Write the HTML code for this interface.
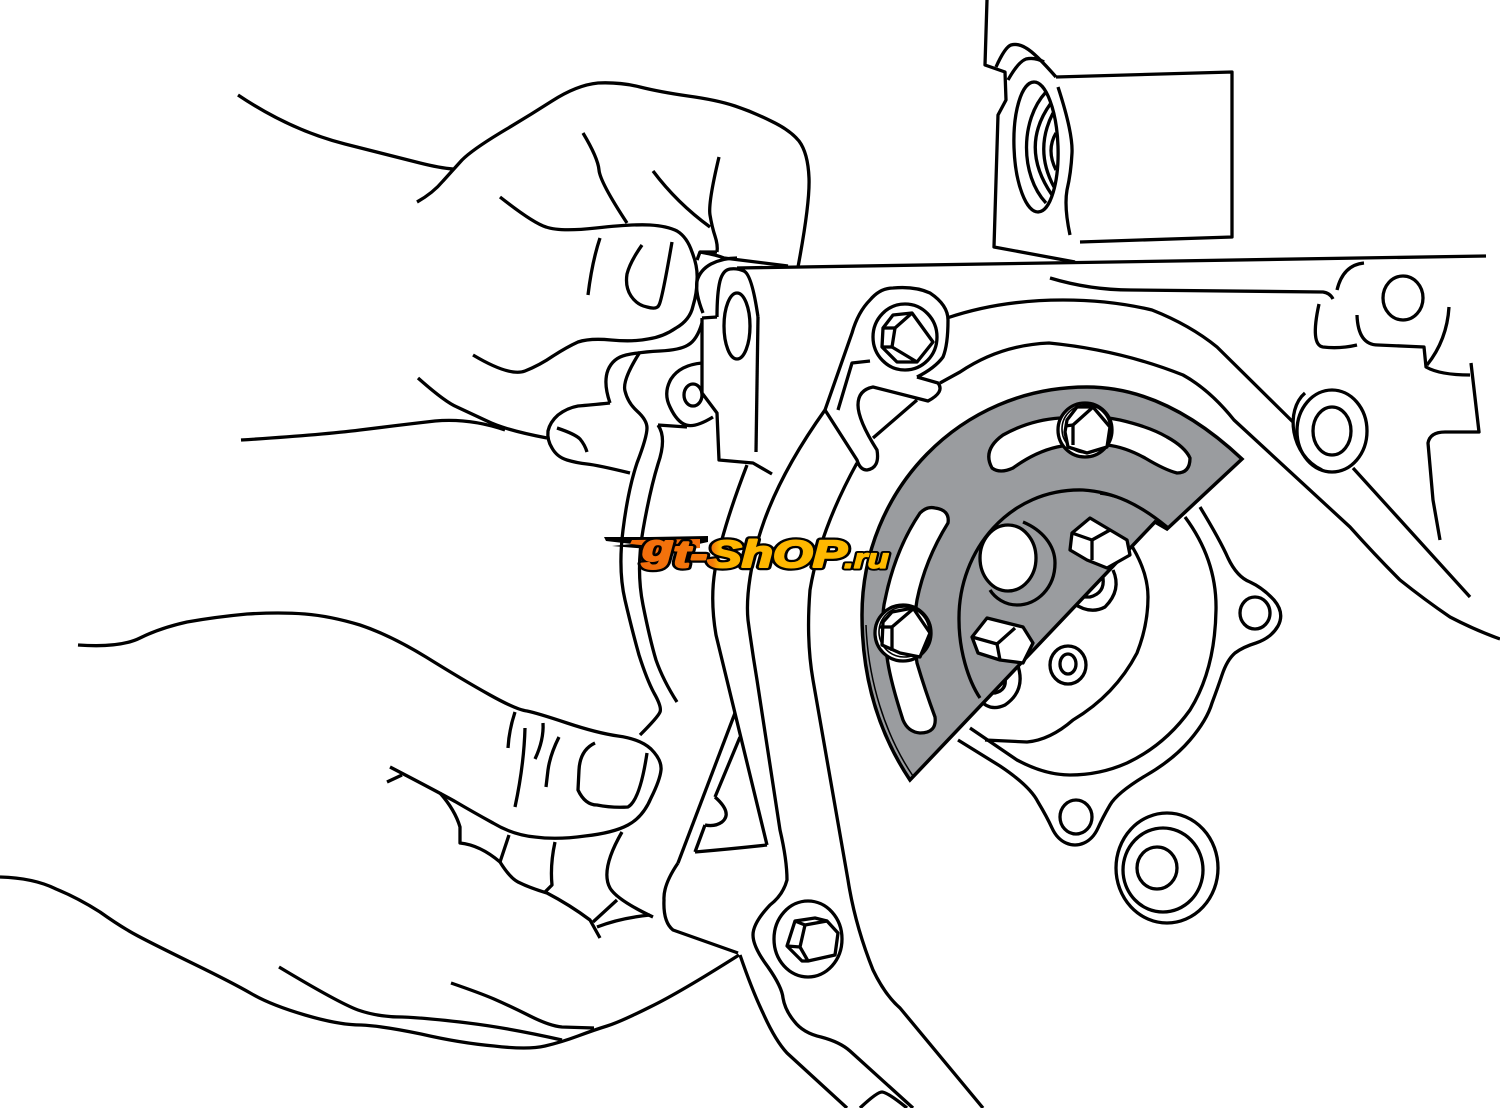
<!DOCTYPE html>
<html>
<head>
<meta charset="utf-8">
<style>
html,body{margin:0;padding:0;background:#fff;}
svg{display:block;}
.l path,.l polygon,.l ellipse,.l circle,.l polyline{stroke:#000;stroke-width:3.3;stroke-linecap:butt;stroke-linejoin:round;}
</style>
</head>
<body>
<svg xmlns="http://www.w3.org/2000/svg" width="1500" height="1108" viewBox="0 0 1500 1108">
<rect width="1500" height="1108" fill="#fff"/>
<g class="l" fill="none">
  <!-- block -->
  <polyline points="987,0 985,65 1005,72 1006,100 998,115 994,247 1075,262"/>
  <polyline points="1056,77 1232,72 1232,237 1080,242"/>
  <ellipse cx="1036" cy="147" rx="22" ry="65" transform="rotate(-2 1036 147)"/>
  <path d="M996,67 Q1005,47 1011,45 Q1018,43 1026,48 Q1035,53 1056,77"/>
  <path d="M1008,80 Q1018,62 1026,59 Q1035,57 1044,62"/>
  <path d="M1058,87 Q1073,133 1072,153 Q1071,173 1067,190 Q1064,207 1070,235"/>
  <path d="M1046,92 C1020,120 1020,175 1046,203"/>
  <path d="M1051,103 Q1019,147 1052,195"/>
  <path d="M1053,113 Q1034,150 1054,187"/>
  <path d="M1056,133 Q1046,150 1056,170"/>
  <!-- holes and rings -->
  <ellipse cx="1403" cy="298" rx="20" ry="22"/>
  <ellipse cx="1332" cy="431" rx="35" ry="41" stroke-width="4"/>
  <ellipse cx="1332" cy="431" rx="19" ry="24"/>
  <path d="M1305,393 C1285,410 1290,455 1322,470"/>
  <ellipse cx="1255" cy="613" rx="15" ry="16"/>
  <ellipse cx="1076" cy="817" rx="16" ry="17"/>
  <ellipse cx="1167" cy="868" rx="51" ry="55"/>
  <ellipse cx="1163" cy="870" rx="40" ry="42"/>
  <ellipse cx="1157" cy="868" rx="20" ry="21"/>
  <ellipse cx="1068" cy="665" rx="18" ry="19"/>
  <ellipse cx="1068" cy="664" rx="8" ry="10"/>
  <!-- upper hand -->
  <path d="M238,95 Q290,130 345,144 Q400,158 420,163 Q440,168 453,169"/>
  <path d="M417,202 Q433,193 443,181 Q453,170 462,160 Q472,150 500,133 Q527,117 552,101 Q577,85 598,83 Q620,82 640,87 Q660,92 688,96 Q717,100 735,106 Q753,112 771,121 Q790,130 799,141 Q808,153 809,178 Q810,203 798,267"/>
  <path d="M583,133 Q598,158 599,170 Q600,182 627,223"/>
  <path d="M653,171 Q677,203 710,227"/>
  <path d="M719,157 Q708,203 710,215 Q712,227 715,236 Q718,245 717,252"/>
  <path d="M500,197 Q533,223 546,227 Q560,232 596,228 Q633,224 650,225 Q667,226 677,231 Q687,237 692,252 Q698,267 697,280 Q697,293 693,306 Q690,320 676,328 Q663,337 648,339 Q633,342 611,340 Q590,338 578,342 Q567,347 553,356 Q540,365 525,371 Q510,377 473,355"/>
  <path d="M642,245 Q630,262 627,274 Q625,287 631,296 Q637,305 647,307 Q657,310 659,305 Q662,300 672,242"/>
  <path d="M600,238 Q592,262 588,295"/>
  <!-- arm and middle finger -->
  <path d="M241,440 Q320,435 360,430 Q400,425 435,421 Q470,418 505,430"/>
  <path d="M418,378 Q445,402 457,407 Q470,413 487,421 Q505,430 547,438"/>
  <path d="M610,403 Q590,405 578,406 Q567,408 558,415 Q550,422 548,431 Q547,440 552,448 Q557,457 567,460 Q577,463 587,464 Q597,465 630,473"/>
  <path d="M557,428 Q575,434 580,439 Q585,445 587,452"/>
  <!-- gasket near hands -->
  <path d="M610,403 Q603,383 608,370 Q613,358 626,355 Q640,352 660,351 Q680,350 688,345 Q697,340 702,323"/>
  <path d="M640,352 Q622,380 625,391 Q628,403 637,411 Q647,420 647,428 Q647,437 637,463 Q628,490 623,530 Q618,570 625,600 Q632,630 639,655 Q647,680 654,693 Q662,707 660,712 Q658,717 640,735"/>
  <path d="M658,425 Q667,438 658,464 Q650,490 643,530 Q636,570 643,605 Q650,640 656,660 Q663,680 677,702"/>
  <path d="M702,363 Q680,365 671,379 Q663,393 670,407 Q677,422 686,425 Q695,428 713,417"/>
  <path d="M658,425 L687,427"/>
  <!-- tab -->
  <ellipse cx="737" cy="326" rx="13" ry="33"/>
  <ellipse cx="693" cy="395" rx="9" ry="11"/>
  <polyline points="702,318 702,393 717,413 719,460 753,463 772,474"/>
  <polyline points="717,317 702,318"/>
  <polyline points="758,317 756,452"/>
  <path d="M717,317 Q717,293 720,281 Q723,270 730,269 Q737,268 744,271 Q752,275 758,317"/>
  <path d="M703,313 Q695,293 697,281 Q700,270 711,264 Q723,258 737,258"/>
  <path d="M700,252 Q717,255 724,258 L788,266"/>
  <path d="M717,252 L700,252 L697,260"/>
  <!-- top edge and right details -->
  <path d="M737,268 L1486,256"/>
  <path d="M1050,278 Q1090,290 1131,290 L1323,292 Q1330,293 1333,299"/>
  <path d="M1337,290 Q1343,265 1364,263"/>
  <path d="M1319,304 Q1310,345 1323,347 Q1340,349 1357,345"/>
  <path d="M1357,315 Q1358,345 1378,345 L1424,347 L1426,367 Q1440,375 1470,375"/>
  <path d="M1449,307 Q1447,340 1427,365"/>
  <path d="M1471,363 L1479,432 L1445,432 Q1430,432 1428,443 L1433,500 L1440,540"/>
  <!-- sweeping lines -->
  <path d="M947,318 Q1000,300 1063,300 Q1110,300 1152,310 Q1190,325 1217,347 L1293,422"/>
  <path d="M940,383 L960,372 Q1000,345 1049,343 Q1120,350 1183,375 Q1210,390 1234,420 L1350,527 Q1375,555 1400,580 Q1425,600 1450,617 Q1475,630 1500,639"/>
  <path d="M1353,468 L1470,597"/>
  <!-- bracket and bolt -->
  <path d="M825,410 L852,333 Q858,312 870,300 Q880,288 893,288 Q915,286 930,293 Q948,305 948,320 Q948,345 943,357 Q935,368 917,377"/>
  <path d="M917,377 L938,383 Q945,392 928,401 L873,387 Q858,390 858,405 Q858,420 877,450 Q880,468 867,470 Q860,470 857,460 L825,410"/>
  <path d="M870,361 L852,363 L838,410"/>
  <path d="M917,400 L873,438"/>
  <ellipse cx="905" cy="337" rx="32" ry="33"/>
  <polygon points="883,328 893,315 912,313 933,342 917,362 897,362 882,347"/>
  <polyline points="912,313 895,328 892,347 917,362"/>
  <polyline points="883,328 895,328"/>
  <polyline points="882,347 892,347"/>
  <!-- three tall curves and gasket -->
  <path d="M825,410 Q775,480 758,540 Q745,590 748,620 Q752,650 757,680 L780,830 Q787,860 787,880 Q783,895 770,905 Q753,923 753,935 Q753,947 768,967 Q782,987 783,998 Q785,1010 794,1021 Q803,1033 821,1037 Q840,1042 850,1051 L913,1108"/>
  <path d="M857,463 Q820,530 810,590 Q806,640 813,680 L848,880 Q855,925 873,970 Q885,995 900,1008 L983,1108"/>
  <path d="M747,465 Q722,530 715,570 Q710,600 716,635 L767,845"/>
  <path d="M740,955 Q752,990 763,1013 Q775,1040 787,1053 L847,1108"/>
  <path d="M860,1108 Q877,1092 882,1092 Q887,1092 907,1108"/>
  <!-- triangle -->
  <polyline points="735,713 678,863"/>
  <polyline points="740,737 715,797"/>
  <polyline points="705,825 695,852"/>
  <path d="M715,797 Q733,813 722,822 Q715,827 705,825"/>
  <path d="M695,852 Q730,849 767,845"/>
  <!-- lower bolt -->
  <ellipse cx="808" cy="939" rx="34" ry="38"/>
  <polygon points="795,921 815,918 827,921 838,933 835,955 808,961 802,961 787,946"/>
  <polyline points="795,921 805,925 827,921"/>
  <polyline points="805,925 800,947 808,961"/>
  <polyline points="800,947 787,946"/>
  <!-- right gasket -->
  <path d="M1200,507 Q1220,540 1228,558 Q1237,577 1250,582 Q1263,588 1274,600 Q1285,613 1278,626 Q1271,638 1256,643 Q1243,647 1235,653 Q1227,660 1222,675 Q1218,687 1212,703 Q1207,720 1190,740 Q1173,760 1145,776 Q1117,793 1110,805 Q1103,817 1098,828 Q1093,839 1084,843 Q1075,847 1066,843 Q1057,839 1052,828 Q1047,817 1038,802 Q1030,786 1000,766 L958,740"/>
  <path d="M1185,517 Q1217,560 1216,610 Q1215,670 1190,710 Q1165,745 1127,763 Q1100,775 1070,775 Q1045,775 1017,760 L970,728"/>
  <path d="M1128,540 Q1148,570 1148,597 Q1148,625 1137,653 Q1115,695 1073,720 Q1050,740 1027,742 L985,740"/>
  <path d="M1113,570 Q1122,590 1105,607 Q1090,615 1073,603"/>
  <path d="M1103,578 Q1105,593 1090,597 L1080,597"/>
  <path d="M1017,663 Q1027,690 1005,705 Q990,712 980,700"/>
  <path d="M1005,678 Q1007,690 995,693 L987,693"/>
  <!-- lower hand, thumb -->
  <path d="M78,645 Q120,648 140,638 Q160,628 187,622 Q215,617 247,614 Q280,612 305,614 Q330,616 360,625 Q390,635 426,657 Q463,680 490,695 Q517,710 527,711 Q537,713 567,723 Q597,733 618,736 Q640,739 651,749 Q662,760 661,770 Q660,780 651,798 Q643,817 628,825 Q613,833 585,836 Q557,840 535,837 Q513,835 493,823 Q473,812 456,802 Q440,793 390,767"/>
  <path d="M402,775 L387,782"/>
  <path d="M515,712 Q509,730 508,748"/>
  <path d="M525,728 Q524,765 515,807"/>
  <path d="M543,723 Q544,740 535,759"/>
  <path d="M559,737 Q550,755 548,770 L546,787"/>
  <path d="M595,743 Q580,750 579,770 L578,790 Q585,805 597,805 Q612,808 628,807 Q640,800 647,753"/>
  <path d="M440,793 Q455,810 460,827 L460,843 Q480,845 500,862 Q510,878 518,882 Q530,888 547,893 Q570,905 590,920 L600,938"/>
  <path d="M509,835 L500,862"/>
  <path d="M555,842 Q550,865 552,885 L545,892"/>
  <path d="M622,832 Q600,870 610,888 Q617,900 653,917"/>
  <path d="M617,900 L593,922"/>
  <path d="M597,927 Q620,918 650,915"/>
  <path d="M678,863 Q663,885 664,900 Q663,922 673,930 L738,953"/>
  <path d="M0,877 Q34,878 56,889 Q78,898 100,912 Q121,927 138,936 Q155,945 194,964 Q233,983 252,994 Q271,1005 305,1015 Q339,1025 361,1025 Q383,1026 421,1034 Q460,1043 494,1046 Q528,1050 545,1046 Q562,1042 578,1036 Q594,1030 607,1026 Q620,1022 650,1007 Q679,993 739,955"/>
  <path d="M279,967 Q339,1003 358,1010 Q378,1017 402,1017 Q427,1018 468,1023 Q509,1028 562,1040"/>
  <path d="M451,983 Q480,993 494,999 Q510,1006 530,1016 Q550,1026 562,1027 L594,1028"/>
</g>
<!-- plate -->
<path d="M1242,459 C1192,412 1140,387 1087,387 C960,387 862,490 862,615 C862,680 880,735 910,780 L1155,522 L1167,529 Z" fill="#9a9c9f" stroke="#000" stroke-width="3.5" stroke-linejoin="miter"/>
<g fill="none" stroke="#000">
  <path d="M1167,527 C1140,505 1115,492 1083,490 C1010,488 958,550 959,620 C959,650 968,680 980,698" stroke-width="3.3"/>
  <path d="M1100,494 C1125,497 1150,512 1165,526" stroke-width="1.5"/>
  <path d="M866,625 C868,680 885,735 913,776" stroke-width="1.5"/>
</g>
<g class="l">
  <!-- slots -->
  <path fill="#fff" d="M1003,435 Q1030,420 1060,418 Q1090,414 1120,420 Q1150,427 1167,437 Q1185,447 1190,458 Q1190,473 1177,473 Q1165,470 1145,458 Q1125,447 1107,445 Q1080,442 1057,447 Q1035,452 1013,468 Q1000,474 992,468 Q982,450 1003,435Z"/>
  <path fill="#fff" d="M935,508 Q950,510 948,523 Q925,560 917,600 Q912,630 917,663 Q925,690 935,717 Q937,733 920,733 Q908,732 903,720 Q890,680 887,657 Q880,620 885,600 Q895,550 920,513 Q927,506 935,508Z"/>
  <!-- big hole -->
  <path d="M1023,522 C1042,530 1055,545 1055,563 C1055,588 1037,605 1017,605 C1005,605 995,598 990,590" fill="none"/>
  <ellipse cx="1008" cy="558" rx="28" ry="33" fill="#fff"/>
  <!-- nuts -->
  <polygon points="1090,518 1127,540 1130,555 1107,568 1087,560 1070,550 1072,533" fill="#fff"/>
  <polyline points="1072,533 1092,540 1110,530" fill="none"/>
  <polyline points="1092,540 1092,560" fill="none"/>
  <polygon points="987,618 1023,627 1033,643 1023,663 1000,660 978,653 972,637" fill="#fff"/>
  <polyline points="972,637 997,644 1015,628" fill="none"/>
  <polyline points="997,644 1000,660" fill="none"/>
  <!-- slot bolts -->
  <circle cx="903" cy="633" r="28" fill="#fff"/>
  <circle cx="904" cy="632" r="25" fill="#fff" style="stroke-width:1.6"/>
  <polygon points="883,622 892,612 913,608 930,633 920,657 900,653 882,645" fill="#fff"/>
  <polyline points="913,609 892,627 892,651" fill="none"/>
  <polyline points="880,627 892,627" fill="none"/>
  <circle cx="1085" cy="430" r="27" fill="#fff"/>
  <circle cx="1086" cy="429" r="24" fill="#fff" style="stroke-width:1.6"/>
  <polygon points="1067,420 1077,407 1093,407 1110,427 1107,447 1087,453 1068,447 1065,432" fill="#fff"/>
  <polyline points="1092,408 1073,425 1073,445" fill="none"/>
  <polyline points="1065,426 1073,425" fill="none"/>
</g>
<!-- logo -->
<defs>
  <linearGradient id="lg" gradientUnits="userSpaceOnUse" x1="640" y1="0" x2="890" y2="0">
    <stop offset="0" stop-color="#f26d0c"/>
    <stop offset="0.29" stop-color="#f47a0a"/>
    <stop offset="0.32" stop-color="#fdb400"/>
    <stop offset="1" stop-color="#ffbb00"/>
  </linearGradient>
</defs>
<g>
  <polygon points="604,537 650,537 708,536 708,542 662,552 654,560 640,558 648,549 612,546 632,544 606,541" fill="#000"/>
  <polygon points="632,540 700,539 700,548 660,551 650,557 646,552 652,546 630,544" fill="#f26d0c"/>
  <g font-family="'Liberation Sans',sans-serif" font-weight="bold" font-style="italic">
    <text x="642" y="567" font-size="38" fill="#000" stroke="#000" stroke-width="6.5" stroke-linejoin="round" textLength="205" lengthAdjust="spacingAndGlyphs"><tspan dy="-6">g</tspan><tspan dy="6">t-ShOP</tspan></text>
    <text x="642" y="567" font-size="38" fill="url(#lg)" stroke="url(#lg)" stroke-width="2" stroke-linejoin="round" textLength="205" lengthAdjust="spacingAndGlyphs"><tspan dy="-6">g</tspan><tspan dy="6">t-ShOP</tspan></text>
    <text x="844" y="568" font-size="28" fill="#000" stroke="#000" stroke-width="5" stroke-linejoin="round" textLength="45" lengthAdjust="spacingAndGlyphs">.ru</text>
    <text x="844" y="568" font-size="28" fill="#ffbb00" stroke="#ffbb00" stroke-width="1.2" stroke-linejoin="round" textLength="45" lengthAdjust="spacingAndGlyphs">.ru</text>
  </g>
</g>
</svg>
</body>
</html>
